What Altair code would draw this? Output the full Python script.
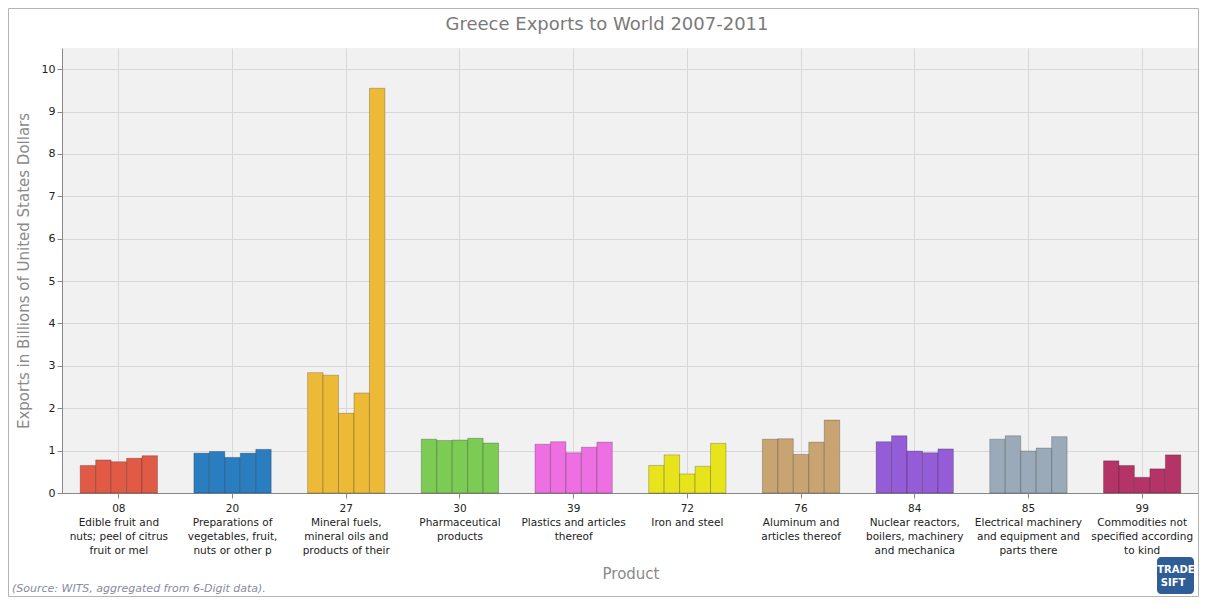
import altair as alt
import pandas as pd

codes = ["08", "20", "27", "30", "39", "72", "76", "84", "85", "99"]
descriptions = [
    "Edible fruit and|nuts; peel of citrus|fruit or mel",
    "Preparations of|vegetables, fruit,|nuts or other p",
    "Mineral fuels,|mineral oils and|products of their",
    "Pharmaceutical|products",
    "Plastics and articles|thereof",
    "Iron and steel",
    "Aluminum and|articles thereof",
    "Nuclear reactors,|boilers, machinery|and mechanica",
    "Electrical machinery|and equipment and|parts there",
    "Commodities not|specified according|to kind",
]
years = [2007, 2008, 2009, 2010, 2011]
v08 = [0.65, 0.78, 0.74, 0.82, 0.88]
v20 = [0.94, 0.98, 0.84, 0.94, 1.03]
v27 = [2.84, 2.78, 1.88, 2.36, 9.55]
v30 = [1.27, 1.24, 1.25, 1.29, 1.18]
v39 = [1.15, 1.21, 0.95, 1.08, 1.20]
v72 = [0.65, 0.90, 0.45, 0.63, 1.17]
v76 = [1.27, 1.28, 0.91, 1.20, 1.72]
v84 = [1.21, 1.35, 0.99, 0.95, 1.04]
v85 = [1.27, 1.35, 0.99, 1.06, 1.33]
v99 = [0.76, 0.65, 0.37, 0.57, 0.90]
series = [v08, v20, v27, v30, v39, v72, v76, v84, v85, v99]
colors = ["#E05A45", "#2A7DBF", "#EDBA38", "#7BCB55", "#EE6FE2",
          "#E8E41C", "#C8A473", "#955CD8", "#9AAAB8", "#B53468"]

rows = []
for c, d, vals in zip(codes, descriptions, series):
    for y, v in zip(years, vals):
        rows.append({"code": c, "label": c + "|" + d, "year": y, "value": v})
df = pd.DataFrame(rows)
labels = [c + "|" + d for c, d in zip(codes, descriptions)]

W, H = 1137, 445
FONT = "DejaVu Sans"

bars = alt.Chart(df).mark_bar(
    stroke="#000000", strokeOpacity=0.22, strokeWidth=1
).encode(
    x=alt.X("label:N", sort=labels,
            scale=alt.Scale(paddingInner=0.32, paddingOuter=0.16),
            axis=alt.Axis(title="Product", labelAngle=0, labelLimit=0,
                          labelExpr="split(datum.label, '|')",
                          labelFont=FONT, labelFontSize=10.5, labelColor="#222222",
                          labelPadding=5, labelLineHeight=14.3,
                          titleFont=FONT, titleFontSize=15, titleFontWeight="normal",
                          titleColor="#8a8a8a", titlePadding=10,
                          grid=True, gridColor="#d8d8d8", tickColor="#888888",
                          domainColor="#888888", tickSize=5)),
    xOffset=alt.XOffset("year:O", scale=alt.Scale(paddingInner=0, paddingOuter=0)),
    y=alt.Y("value:Q", scale=alt.Scale(domain=[0, 10.5], nice=False),
            axis=alt.Axis(title="Exports in Billions of United States Dollars",
                          values=list(range(0, 11)), labelFont=FONT, labelFontSize=11,
                          labelColor="#222222", titleFont=FONT, titleFontSize=15,
                          titleFontWeight="normal", titleColor="#8a8a8a",
                          titlePadding=10, gridColor="#d8d8d8",
                          tickColor="#888888", domainColor="#888888", tickSize=5)),
    color=alt.Color("code:N", scale=alt.Scale(domain=codes, range=colors), legend=None),
)

one = pd.DataFrame({"a": [0]})
border = alt.Chart(one).mark_rect(fill="transparent", stroke="#b4b4b4", strokeWidth=1).encode(
    x=alt.value(-53.5), x2=alt.value(1136.5), y=alt.value(-39.5), y2=alt.value(548.5))

title = alt.Chart(one).mark_text(
    text="Greece Exports to World 2007-2011", align="center", baseline="middle",
    font=FONT, fontSize=18, color="#7a7a7a"
).encode(x=alt.value(545), y=alt.value(-23))

source = alt.Chart(one).mark_text(
    text="(Source: WITS, aggregated from 6-Digit data).", align="left",
    baseline="middle", font=FONT, fontSize=11, fontStyle="italic", color="#8a8aa0"
).encode(x=alt.value(-50), y=alt.value(541))

logo_box = alt.Chart(one).mark_rect(color="#2f5e97", cornerRadius=4).encode(
    x=alt.value(1095), x2=alt.value(1132), y=alt.value(509), y2=alt.value(546))
logo_t1 = alt.Chart(one).mark_text(text="TRADE", font=FONT, fontSize=10,
                                   fontWeight="bold", color="white").encode(
    x=alt.value(1114), y=alt.value(522))
logo_t2 = alt.Chart(one).mark_text(text="SIFT", font=FONT, fontSize=10,
                                   fontWeight="bold", color="white").encode(
    x=alt.value(1111), y=alt.value(535))

chart = alt.layer(border, bars, title, source, logo_box, logo_t1, logo_t2).properties(
    width=W, height=H,
    autosize=alt.AutoSizeParams(type="none"),
    padding={"left": 54, "top": 40, "right": 0, "bottom": 104},
).configure_view(fill="#f1f1f1", stroke=None)

chart.save("out.html", embed_options={"renderer": "svg", "actions": False})
